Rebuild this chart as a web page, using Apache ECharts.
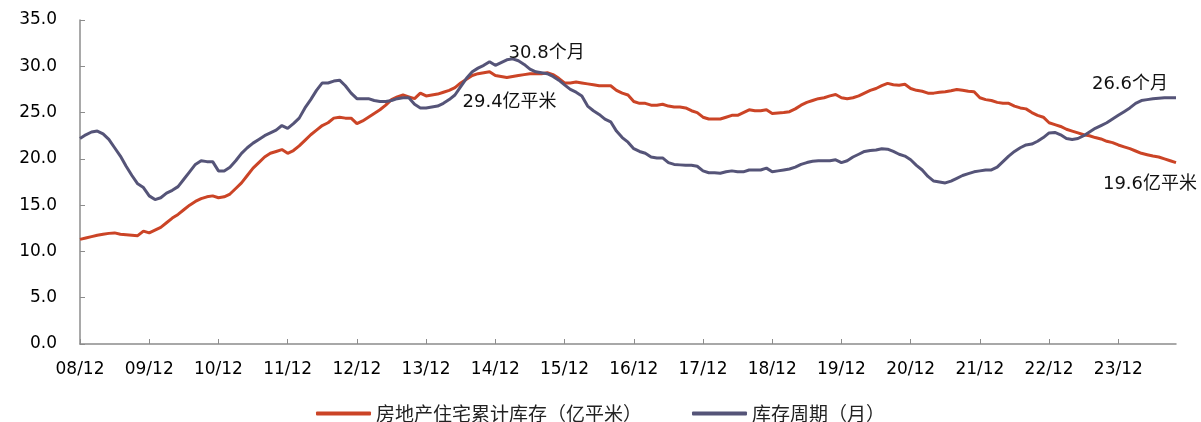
<!DOCTYPE html>
<html>
<head>
<meta charset="utf-8">
<script src="https://cdn.jsdelivr.net/npm/echarts@6/dist/echarts.min.js"></script>
<style>
  html, body { margin: 0; padding: 0; background: #fff; }
  #chart { width: 1201px; height: 422px; }
</style>
</head>
<body>
<div id="chart"></div>
<script>
// months 08/12 .. 24/10
var months = [];
for (var y = 2008, m = 12; y < 2024 || (y === 2024 && m <= 10); ) {
  months.push(String(y % 100).padStart(2, '0') + '/' + String(m).padStart(2, '0'));
  m++;
  if (m > 12) { m = 1; y++; }
}

// 房地产住宅累计库存（亿平米）
var stock = [
  11.3, 11.45, 11.6, 11.75, 11.85, 11.95, 12.0, 11.85, 11.8, 11.75, 11.7, 12.2,
  12.0, 12.3, 12.6, 13.1, 13.6, 14.0, 14.5, 15.0, 15.4, 15.7, 15.9, 16.0,
  15.8, 15.9, 16.2, 16.8, 17.4, 18.2, 19.0, 19.6, 20.2, 20.6, 20.8, 21.0,
  20.6, 20.9, 21.4, 22.0, 22.6, 23.1, 23.6, 23.9, 24.4, 24.5, 24.4, 24.4,
  23.8, 24.1, 24.5, 24.9, 25.3, 25.8, 26.4, 26.7, 26.9, 26.7, 26.5, 27.1,
  26.8, 26.9, 27.0, 27.2, 27.4, 27.7, 28.2, 28.6, 29.0, 29.2, 29.3, 29.4,
  29.0, 28.9, 28.8, 28.9, 29.0, 29.1, 29.2, 29.2, 29.2, 29.3, 29.1, 28.7,
  28.2, 28.2, 28.3, 28.2, 28.1, 28.0, 27.9, 27.9, 27.9, 27.4, 27.1, 26.9,
  26.2, 26.0, 26.0, 25.8, 25.8, 25.9, 25.7, 25.6, 25.6, 25.5, 25.2, 25.0,
  24.5, 24.3, 24.3, 24.3, 24.5, 24.7, 24.7, 25.0, 25.3, 25.2, 25.2, 25.3,
  24.9, 24.95, 25.0, 25.1, 25.4, 25.8, 26.1, 26.3, 26.5, 26.6, 26.8, 26.95,
  26.6, 26.5, 26.6, 26.8, 27.1, 27.4, 27.6, 27.9, 28.15, 28.0, 27.95, 28.05,
  27.6, 27.4, 27.3, 27.1, 27.1, 27.2, 27.25, 27.35, 27.5, 27.4, 27.3, 27.25,
  26.6, 26.4, 26.3, 26.1, 26.0, 26.0, 25.7, 25.5, 25.4, 25.0, 24.7, 24.5,
  23.9, 23.7, 23.5, 23.2, 23.0, 22.8, 22.6, 22.5, 22.3, 22.15, 21.9, 21.75,
  21.5, 21.3, 21.1, 20.85, 20.6, 20.45, 20.3, 20.2, 20.0, 19.8, 19.6
];

// 库存周期（月）
var cycle = [
  22.2, 22.6, 22.9, 23.0, 22.7, 22.1, 21.2, 20.3, 19.2, 18.2, 17.3, 16.9,
  16.0, 15.6, 15.8, 16.3, 16.6, 17.0, 17.8, 18.6, 19.4, 19.8, 19.7, 19.7,
  18.7, 18.7, 19.1, 19.8, 20.6, 21.2, 21.7, 22.1, 22.5, 22.8, 23.1, 23.6,
  23.3, 23.8, 24.4, 25.5, 26.4, 27.4, 28.2, 28.2, 28.4, 28.5, 27.9, 27.1,
  26.5, 26.5, 26.5, 26.3, 26.2, 26.2, 26.3, 26.5, 26.6, 26.6, 25.9, 25.5,
  25.5, 25.6, 25.7, 26.0, 26.4, 26.9, 27.8, 28.7, 29.4, 29.8, 30.1, 30.5,
  30.1, 30.4, 30.7, 30.8, 30.6, 30.2, 29.7, 29.4, 29.3, 29.2, 28.9, 28.5,
  28.0, 27.5, 27.2, 26.8, 25.7, 25.2, 24.8, 24.3, 24.0, 23.0, 22.3, 21.8,
  21.1, 20.8, 20.6, 20.2, 20.1, 20.1, 19.6, 19.4, 19.35, 19.3, 19.3, 19.2,
  18.7, 18.5, 18.5, 18.45, 18.6, 18.7, 18.6, 18.6, 18.8, 18.8, 18.8, 19.0,
  18.6, 18.7, 18.8, 18.9, 19.1, 19.4, 19.6, 19.75, 19.8, 19.8, 19.8, 19.9,
  19.6, 19.8, 20.2, 20.5, 20.8, 20.9, 20.95, 21.1, 21.05, 20.8, 20.5, 20.3,
  19.9, 19.3, 18.8, 18.1, 17.6, 17.5, 17.4, 17.6, 17.9, 18.2, 18.4, 18.6,
  18.7, 18.8, 18.8, 19.1, 19.7, 20.3, 20.8, 21.2, 21.5, 21.6, 21.9, 22.3,
  22.8, 22.85, 22.6, 22.2, 22.1, 22.2, 22.5, 22.9, 23.3, 23.6, 23.9, 24.3,
  24.7, 25.1, 25.5, 26.0, 26.3, 26.4, 26.5, 26.55, 26.6, 26.6, 26.6
];

var yTicks = [0, 5, 10, 15, 20, 25, 30, 35];

var red = '#CB4426';
var navy = '#555478';
var numFont = 'DejaVu Sans, Liberation Sans, Arial, sans-serif';
var cjkFont = 'DejaVu Sans, Noto Sans CJK SC, sans-serif';

var stockPeak = stock.indexOf(Math.max.apply(null, stock));
var cyclePeak = cycle.indexOf(Math.max.apply(null, cycle));
var last = months.length - 1;

function note(idx, val, text, dx, dy) {
  return {
    coord: [idx, val],
    symbol: 'circle',
    symbolSize: 0,
    label: {
      show: true,
      position: 'inside',
      formatter: text,
      offset: [dx, dy],
      color: '#111',
      fontSize: 18,
      fontFamily: cjkFont
    }
  };
}

var chart = echarts.init(document.getElementById('chart'), null, { renderer: 'canvas' });
var option = {
  animation: false,
  grid: { left: 80, right: 25, top: 20, bottom: 78, containLabel: false },
  legend: {
    top: 399,
    left: 'center',
    icon: 'roundRect',
    itemWidth: 55,
    itemHeight: 4,
    itemGap: 50,
    textStyle: { fontSize: 19, color: '#222', fontFamily: 'Noto Sans CJK SC, sans-serif' },
    data: ['房地产住宅累计库存（亿平米）', '库存周期（月）']
  },
  xAxis: {
    type: 'category',
    data: months,
    boundaryGap: false,
    axisLine: { lineStyle: { color: '#8c8c8c', width: 1.5 } },
    axisTick: { inside: true, interval: 11, length: 5, lineStyle: { color: '#8c8c8c' } },
    axisLabel: {
      interval: 11,
      margin: 17,
      color: '#000',
      fontSize: 17,
      fontFamily: numFont
    },
    splitLine: { show: false }
  },
  yAxis: {
    type: 'value',
    min: yTicks[0],
    max: yTicks[yTicks.length - 1],
    interval: 5,
    axisLine: { show: true, lineStyle: { color: '#8c8c8c', width: 1.5 } },
    axisTick: { show: true, inside: true, length: 5, lineStyle: { color: '#8c8c8c' } },
    axisLabel: {
      margin: 23,
      color: '#000',
      fontSize: 17,
      fontFamily: numFont,
      formatter: function (v) { return v.toFixed(1); }
    },
    splitLine: { show: false }
  },
  series: [
    {
      name: '房地产住宅累计库存（亿平米）',
      type: 'line',
      data: stock,
      symbol: 'none',
      color: red,
      lineStyle: { color: red, width: 3 },
      markPoint: {
        data: [
          note(stockPeak, stock[stockPeak], stock[stockPeak].toFixed(1) + '亿平米', 20, 30),
          note(last, stock[last], stock[last].toFixed(1) + '亿平米', -26, 22)
        ]
      },
      z: 2
    },
    {
      name: '库存周期（月）',
      type: 'line',
      data: cycle,
      symbol: 'none',
      color: navy,
      lineStyle: { color: navy, width: 3 },
      markPoint: {
        data: [
          note(cyclePeak, cycle[cyclePeak], cycle[cyclePeak].toFixed(1) + '个月', 34, -6),
          note(last, cycle[last], cycle[last].toFixed(1) + '个月', -46, -13)
        ]
      },
      z: 3
    }
  ]
};
option && chart.setOption(option);
</script>
</body>
</html>
